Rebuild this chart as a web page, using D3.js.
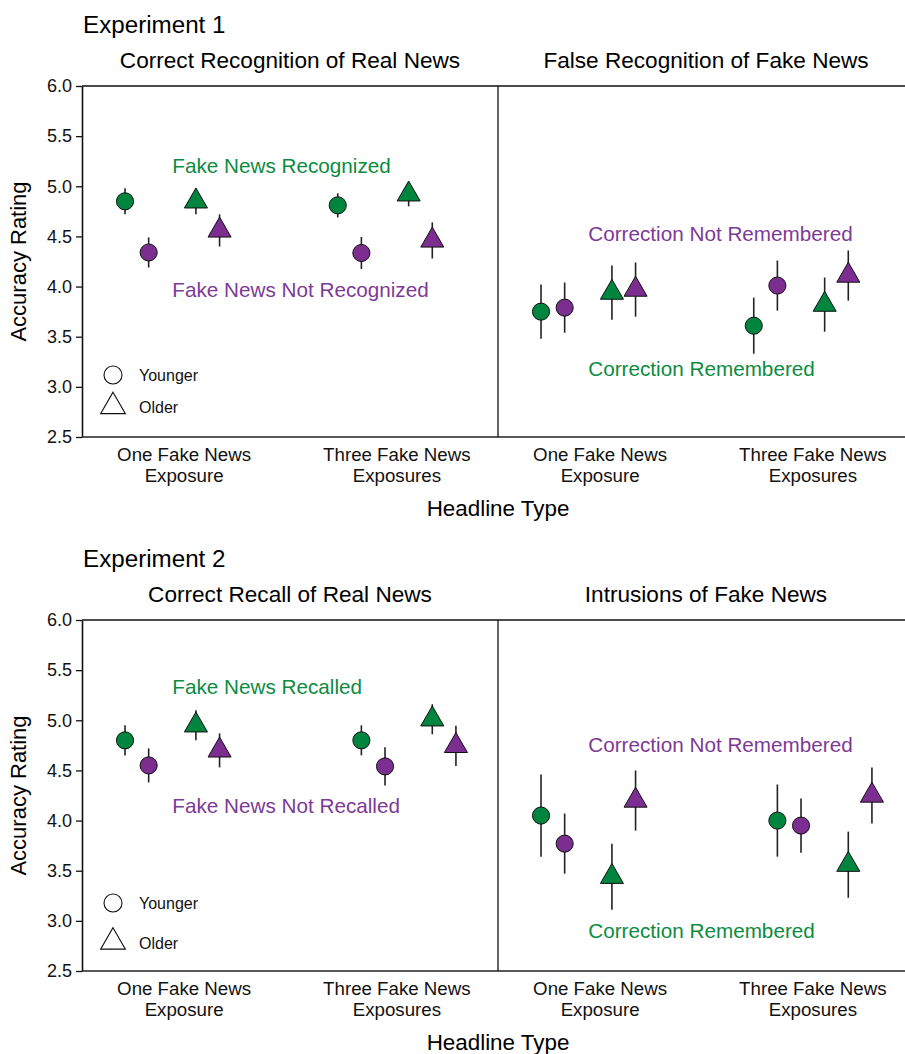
<!DOCTYPE html>
<html>
<head>
<meta charset="utf-8">
<script src="https://cdn.jsdelivr.net/npm/d3@7"></script>
<style>
  body { margin: 0; background: #fff; }
  svg { display: block; font-family: "Liberation Sans", Arial, sans-serif; }
</style>
</head>
<body>
<div id="chart"></div>
<script>
// categories on the x axis (two lines each)
var categories = ["One Fake News Exposure", "Three Fake News Exposures"];
var categoryLines = [["One Fake News", "Exposure"], ["Three Fake News", "Exposures"]];

// the four series drawn inside each category
var seriesAge = ["Younger", "Younger", "Older", "Older"];
var seriesMemory = ["yes", "no", "yes", "no"];
var ageGroups = ["Younger", "Older"];

var yTicks = [2.5, 3.0, 3.5, 4.0, 4.5, 5.0, 5.5, 6.0];

// Experiment 1 — means and error half-widths, [category][series]
var exp1RealMeans  = [[4.85, 4.34, 4.85, 4.56], [4.81, 4.335, 4.92, 4.46]];
var exp1RealErrors = [[0.13, 0.15, 0.13, 0.16], [0.12, 0.16, 0.12, 0.18]];
var exp1FakeMeans  = [[3.75, 3.79, 3.94, 3.97], [3.61, 4.01, 3.82, 4.11]];
var exp1FakeErrors = [[0.27, 0.25, 0.27, 0.27], [0.28, 0.25, 0.27, 0.25]];

// Experiment 2
var exp2RealMeans  = [[4.80, 4.55, 4.95, 4.70], [4.80, 4.54, 5.01, 4.745]];
var exp2RealErrors = [[0.15, 0.17, 0.15, 0.17], [0.15, 0.19, 0.15, 0.20]];
var exp2FakeMeans  = [[4.05, 3.77, 3.44, 4.20], [4.00, 3.95, 3.56, 4.25]];
var exp2FakeErrors = [[0.41, 0.30, 0.33, 0.30], [0.36, 0.27, 0.33, 0.28]];

var green = "#00853e", purple = "#7b2e8f";
var greenText = "#0b8c40", purpleText = "#7d3a96";

var width = 905, height = 1054;
var panelW = 416, panelH = 351;
var plotLeft = 82;

var svg = d3.select("#chart")
  .append("svg")
  .attr("width", width)
  .attr("height", height);

// slot layout inside a panel
var seriesSlot = [0, 1, 3, 4];
var labelSlot = [2.5, 11.5];
var x = d3.scaleLinear().domain([-1.82, 15.78]).range([0, panelW]);
var y = d3.scaleLinear().domain([2.5, 6.0]).range([panelH, 0]);

var symbolSize = 230;
var ageSymbol = { "Younger": d3.symbolCircle, "Older": d3.symbolTriangle };

var experiments = [
  {
    name: "Experiment 1", top: 86, groupStart: [0, 9],
    panels: [
      { title: "Correct Recognition of Real News", means: exp1RealMeans, errors: exp1RealErrors,
        notes: [{ text: "Fake News Recognized", value: 5.13, color: greenText },
                { text: "Fake News Not Recognized", value: 3.90, color: purpleText }] },
      { title: "False Recognition of Fake News", means: exp1FakeMeans, errors: exp1FakeErrors,
        notes: [{ text: "Correction Not Remembered", value: 4.45, color: purpleText },
                { text: "Correction Remembered", value: 3.11, color: greenText }] }
    ],
    legendY: [289, 320.5], legendTextY: [295, 327]
  },
  {
    name: "Experiment 2", top: 620, groupStart: [0, 10],
    panels: [
      { title: "Correct Recall of Real News", means: exp2RealMeans, errors: exp2RealErrors,
        notes: [{ text: "Fake News Recalled", value: 5.26, color: greenText },
                { text: "Fake News Not Recalled", value: 4.08, color: purpleText }] },
      { title: "Intrusions of Fake News", means: exp2FakeMeans, errors: exp2FakeErrors,
        notes: [{ text: "Correction Not Remembered", value: 4.68, color: purpleText },
                { text: "Correction Remembered", value: 2.83, color: greenText }] }
    ],
    legendY: [283, 322], legendTextY: [289, 329]
  }
];

experiments.forEach(function(exp) {
  var g = svg.append("g").attr("transform", "translate(" + plotLeft + "," + exp.top + ")");

  g.append("text")
    .attr("x", 1).attr("y", -53)
    .attr("font-size", "24.2px")
    .text(exp.name);

  // y axis
  var yAxis = g.append("g")
    .call(d3.axisLeft(y).tickValues(yTicks).tickFormat(d3.format(".1f")).tickSize(6).tickSizeOuter(0).tickPadding(4));
  yAxis.selectAll("text").attr("font-size", "18px").attr("fill", "#111").attr("font-family", "Liberation Sans, Arial, sans-serif");
  yAxis.selectAll("line").attr("stroke", "#111").attr("stroke-width", 1.3);
  yAxis.select(".domain").attr("stroke", "#111").attr("stroke-width", 1.6);

  g.append("text")
    .attr("transform", "translate(-56," + (panelH / 2) + ") rotate(-90)")
    .attr("text-anchor", "middle")
    .attr("font-size", "22px")
    .text("Accuracy Rating");

  // frame
  g.append("line").attr("x1", 0).attr("x2", 2 * panelW).attr("y1", 0).attr("y2", 0)
    .attr("stroke", "#111").attr("stroke-width", 1.6);
  g.append("line").attr("x1", 0).attr("x2", 2 * panelW).attr("y1", panelH).attr("y2", panelH)
    .attr("stroke", "#222").attr("stroke-width", 1.6);
  g.append("line").attr("x1", panelW).attr("x2", panelW).attr("y1", 0).attr("y2", panelH)
    .attr("stroke", "#111").attr("stroke-width", 1.3);

  exp.panels.forEach(function(panel, p) {
    var pg = g.append("g").attr("transform", "translate(" + (p * panelW) + ",0)");

    pg.append("text")
      .attr("x", panelW / 2).attr("y", -18)
      .attr("text-anchor", "middle")
      .attr("font-size", "22.6px")
      .text(panel.title);

    // category labels
    categories.forEach(function(c, ci) {
      var t = pg.append("text")
        .attr("text-anchor", "middle")
        .attr("font-size", "18.7px")
        .attr("fill", "#111");
      categoryLines[ci].forEach(function(line, li) {
        t.append("tspan")
          .attr("x", x(labelSlot[ci]))
          .attr("y", panelH + 24 + li * 21)
          .text(line);
      });
    });

    // annotations
    panel.notes.forEach(function(n) {
      pg.append("text")
        .attr("x", x(2)).attr("y", y(n.value))
        .attr("font-size", "20.7px")
        .attr("fill", n.color)
        .text(n.text);
    });

    // flatten points
    var pts = [];
    panel.means.forEach(function(row, ci) {
      row.forEach(function(m, si) {
        pts.push({
          cx: x(exp.groupStart[ci] + seriesSlot[si]),
          mean: m,
          err: panel.errors[ci][si],
          age: seriesAge[si],
          color: seriesMemory[si] === "yes" ? green : purple
        });
      });
    });

    pg.append("g").selectAll("line")
      .data(pts).enter().append("line")
      .attr("x1", function(d) { return d.cx; })
      .attr("x2", function(d) { return d.cx; })
      .attr("y1", function(d) { return y(d.mean + d.err); })
      .attr("y2", function(d) { return y(d.mean - d.err); })
      .attr("stroke", "#222")
      .attr("stroke-width", 1.6);

    pg.append("g").selectAll("path")
      .data(pts).enter().append("path")
      .attr("d", function(d) { return d3.symbol().type(ageSymbol[d.age]).size(symbolSize)(); })
      .attr("transform", function(d) { return "translate(" + d.cx + "," + y(d.mean) + ")"; })
      .attr("fill", function(d) { return d.color; })
      .attr("stroke", "#111")
      .attr("stroke-width", 1);
  });

  // legend
  ageGroups.forEach(function(a, i) {
    g.append("path")
      .attr("d", d3.symbol().type(ageSymbol[a]).size(i === 0 ? 255 : 265)())
      .attr("transform", "translate(31," + exp.legendY[i] + ")")
      .attr("fill", "#fff")
      .attr("stroke", "#111")
      .attr("stroke-width", 1.1);
    g.append("text")
      .attr("x", 57).attr("y", exp.legendTextY[i])
      .attr("font-size", "16px")
      .attr("fill", "#111")
      .text(a);
  });

  g.append("text")
    .attr("x", panelW).attr("y", panelH + 79)
    .attr("text-anchor", "middle")
    .attr("font-size", "22.4px")
    .text("Headline Type");
});
</script>
</body>
</html>
